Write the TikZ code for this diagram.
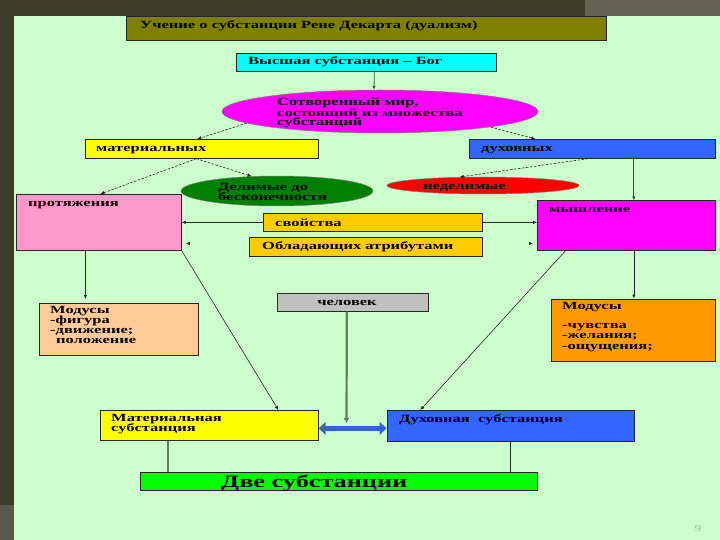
\documentclass[tikz,border=0pt]{standalone}
\usepackage{fontspec}
\setmainfont{Liberation Serif}[FakeStretch=1.5]
\usetikzlibrary{arrows.meta,shapes.geometric}
\definecolor{darkbg}{HTML}{3D3D2B}
\definecolor{panel}{HTML}{CCFFCC}
\definecolor{olivec}{HTML}{808000}
\definecolor{cyanc}{HTML}{00FFFF}
\definecolor{magc}{HTML}{FF00FF}
\definecolor{yelc}{HTML}{FFFF00}
\definecolor{bluec}{HTML}{3366FF}
\definecolor{greenc}{HTML}{008000}
\definecolor{redc}{HTML}{FF0000}
\definecolor{pinkc}{HTML}{FF99CC}
\definecolor{goldc}{HTML}{FFCC00}
\definecolor{peachc}{HTML}{FFCC99}
\definecolor{orangec}{HTML}{FF9900}
\definecolor{greyc}{HTML}{C0C0C0}
\definecolor{limec}{HTML}{00FF00}
\definecolor{dkg}{HTML}{3A5A3A}
\definecolor{midg}{HTML}{5F7F5F}
\definecolor{arrblue}{HTML}{3366CC}
\begin{document}
\begin{tikzpicture}[x=1pt,y=-1pt,
  bx/.style={rectangle, draw=black!85, line width=0.7pt, anchor=north west, inner sep=0pt},
  ell/.style={ellipse, draw=black!50, line width=0.5pt, inner sep=0pt},
  tx/.style={anchor=base west, inner sep=0pt, font=\bfseries\fontsize{11}{11}\selectfont},
  darr/.style={dash pattern=on 2.5pt off 1.5pt, line width=0.6pt, draw=black!85, -{Latex[length=4pt,width=3.5pt]}},
  sarr/.style={line width=0.8pt, draw=dkg, -{Latex[length=4pt,width=3.5pt]}},
  tarr/.style={line width=0.6pt, draw=black!85, -{Latex[length=4pt,width=3.5pt]}}
]
\useasboundingbox (0,0) rectangle (720,540);
% background
\fill[darkbg] (0,0) rectangle (720,540);
\fill[darkbg!80!white] (585,0) rectangle (720,16);
\fill[darkbg!60!gray] (0,505) rectangle (14,540);
\fill[panel] (14,16) rectangle (720,540);

% boxes
\node[bx, fill=olivec, line width=1pt, minimum width=480pt, minimum height=24pt] (title) at (126,16) {};
\node[bx, fill=cyanc, minimum width=260pt, minimum height=18pt] (god) at (236,53) {};
\node[ell, fill=magc, minimum width=316pt, minimum height=43pt] (world) at (380,111.5) {};
\node[bx, fill=yelc, minimum width=233pt, minimum height=19pt] (mat) at (85,139) {};
\node[bx, fill=bluec, minimum width=246pt, minimum height=19pt] (dux) at (469,139) {};
\node[ell, fill=greenc, minimum width=192pt, minimum height=30pt] (grn) at (277,191) {};
\node[ell, fill=redc, minimum width=192pt, minimum height=17pt] (red) at (483,185.5) {};
\node[bx, fill=pinkc, minimum width=165pt, minimum height=56pt] (prot) at (16,194) {};
\node[bx, fill=magc, minimum width=178pt, minimum height=49.5pt] (mysh) at (537,200.5) {};
\node[bx, fill=goldc, minimum width=219pt, minimum height=18pt] (svoi) at (263,213) {};
\node[bx, fill=goldc, minimum width=233pt, minimum height=19pt] (obl) at (249,237) {};
\node[bx, fill=peachc, minimum width=159pt, minimum height=52pt] (modL) at (39,303) {};
\node[bx, fill=greyc, minimum width=151pt, minimum height=18pt] (chel) at (277,293) {};
\node[bx, fill=orangec, minimum width=164pt, minimum height=62pt] (modR) at (551,298.5) {};
\node[bx, fill=yelc, minimum width=218pt, minimum height=30pt] (matS) at (100,410) {};
\node[bx, fill=bluec, minimum width=247pt, minimum height=31pt] (duxS) at (386.5,410) {};
\node[bx, fill=limec, minimum width=397pt, minimum height=18pt] (two) at (140,472) {};

% texts
\node[tx] (titleT) at (140,28.5) {Учение о субстанции Рене Декарта (дуализм)};
\node[tx] (godT) at (248,65) {Высшая субстанция – Бог};
\node[tx] (worldT1) at (277,106) {Сотворенный мир,};
\node[tx] (worldT2) at (277,116.5) {состоящий из множества};
\node[tx] (worldT3) at (277,126) {субстанций};
\node[tx] (matT) at (96,152) {материальных};
\node[tx] (duxT) at (481,152) {духовных};
\node[tx] (grnT1) at (218,190.5) {Делимые до};
\node[tx] (grnT2) at (218,200.5) {бесконечности};
\node[tx] (redT) at (423,190) {неделимые};
\node[tx] (protT) at (28,206.5) {протяжения};
\node[tx] (myshT) at (549,212.5) {мышление};
\node[tx] (svoiT) at (275,226) {свойства};
\node[tx] (oblT) at (262,249.5) {Обладающих атрибутами};
\node[tx] (modLT1) at (50,313.5) {Модусы};
\node[tx] (modLT2) at (50,323.5) {-фигура};
\node[tx] (modLT3) at (50,333.5) {-движение;};
\node[tx] (modLT4) at (56,343) {положение};
\node[tx, anchor=base] (chelT) at (347,305.5) {человек};
\node[tx] (modRT1) at (562,309.5) {Модусы};
\node[tx] (modRT2) at (562,328.5) {-чувства};
\node[tx] (modRT3) at (562,338) {-желания;};
\node[tx] (modRT4) at (562,349.5) {-ощущения;};
\node[tx] (matST1) at (111,421.5) {Материальная};
\node[tx] (matST2) at (111,431.5) {субстанция};
\node[tx] (duxST) at (399,422.5) {Духовная\ \ субстанция};
\node[tx, font=\bfseries\fontsize{17.5}{18}\selectfont] (twoT) at (221,487) {Две субстанции};
\node[anchor=base, inner sep=0pt, text=black!25!panel, font=\fontsize{9}{9}\selectfont] (pnum) at (698,531) {9};

% connectors
\draw[sarr] ([xshift=8pt]god.south) -- ([xshift=-6pt]world.north);
\draw[darr] (world.185) -- ([xshift=-4.5pt]mat.north);
\draw[darr] (world.352) -- ([xshift=-57pt]dux.north);
\draw[darr] ([xshift=-5.5pt]mat.south) -- ([xshift=1.5pt]prot.north);
\draw[darr] ([xshift=-5.5pt]mat.south) -- (grn.150);
\draw[darr] ([xshift=-4.5pt]dux.south) -- (red.160);
\draw[sarr] ([xshift=41.5pt]dux.south) -- ([xshift=41.5pt]dux.south |- mysh.north);
\draw[tarr] (svoi.west) -- (svoi.west -| prot.east);
\draw[tarr] (svoi.east) -- (svoi.east -| mysh.west);
\coordinate (tipL) at (186,243.5);
\coordinate (tipR) at (533,243.5);
\draw[tarr] ([xshift=3pt]tipL) -- (tipL);
\draw[tarr] ([xshift=-3pt]tipR) -- (tipR);
\draw[tarr, shorten >=4pt] ([xshift=-13.5pt]prot.south) -- ([xshift=-13.5pt]prot.south |- modL.north);
\draw[tarr] ([xshift=7.5pt]mysh.south) -- ([xshift=7.5pt]mysh.south |- modR.north);
\draw[tarr] (prot.south east) -- ([xshift=69pt]matS.north);
\draw[tarr] ([xshift=28.5pt]mysh.south west) -- ([xshift=-90pt]duxS.north);
\coordinate (chelEnd) at (346.5,423);
\draw[line width=2.2pt, draw=midg, -{Latex[length=5pt,width=6pt]}] ([xshift=-6pt]chel.south) -- (chelEnd);
\draw[line width=4.5pt, draw=arrblue, {Triangle[length=7pt,width=13pt]}-{Triangle[length=7pt,width=13pt]}] ([yshift=-3pt]matS.east) -- ([yshift=-2.5pt]duxS.west);
\draw[line width=1.5pt, draw=midg] ([xshift=-41.5pt]matS.south) -- ([xshift=-41.5pt]matS.south |- two.north);
\draw[line width=0.6pt, draw=black!85] (duxS.south) -- (duxS.south |- two.north);
\end{tikzpicture}
\end{document}
